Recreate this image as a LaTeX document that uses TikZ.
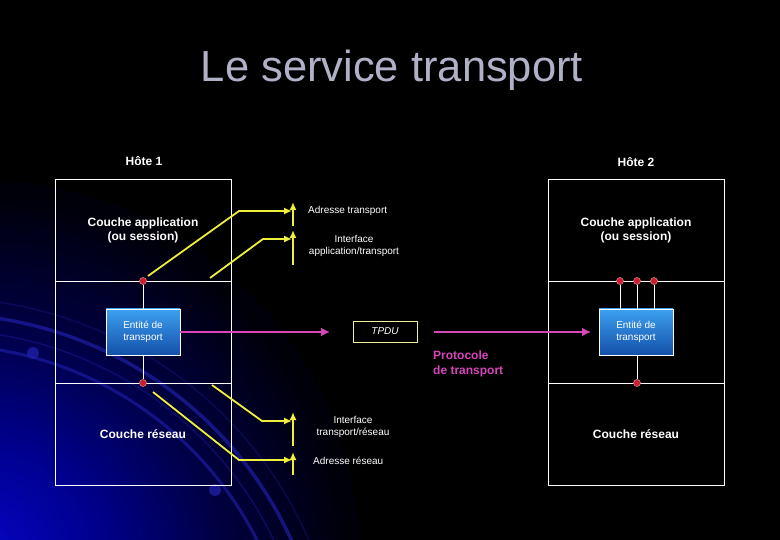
\documentclass[tikz,border=0pt]{standalone}
\usepackage{fontspec}
\setmainfont{Liberation Sans}
\usetikzlibrary{arrows.meta}
\definecolor{titlec}{RGB}{176,176,198}
\definecolor{yel}{RGB}{240,240,60}
\definecolor{pinkc}{RGB}{215,70,185}
\definecolor{arcc}{RGB}{30,30,165}
\definecolor{dotc}{RGB}{200,30,45}
\definecolor{entTop}{RGB}{60,160,240}
\definecolor{entBot}{RGB}{20,80,170}
\definecolor{tpduc}{RGB}{240,240,160}
\definecolor{g0}{RGB}{5,5,200}
\definecolor{g1}{RGB}{0,0,140}
\definecolor{g2}{RGB}{0,0,64}
\definecolor{g3}{RGB}{0,0,10}
\pgfdeclareradialshading{bgglow}{\pgfpoint{0bp}{0bp}}{%
  color(0bp)=(g0);
  color(8bp)=(g1);
  color(16bp)=(g2);
  color(24bp)=(g3);
  color(28bp)=(black);
  color(50bp)=(black)}
\tikzset{
  layer/.style={draw=white, line width=0.8pt, minimum width=176pt, minimum height=102pt, inner sep=0pt, text=white, align=center, font=\fontsize{12}{14}\selectfont\bfseries},
  entity/.style={draw=white, line width=0.8pt, top color=entTop, bottom color=entBot, minimum width=74pt, minimum height=46pt, inner sep=0pt, text=white, align=center, font=\fontsize{10}{12}\selectfont},
  hostlbl/.style={text=white, font=\fontsize{12}{14}\selectfont\bfseries},
  small/.style={text=white, align=center, font=\fontsize{10}{12}\selectfont},
  reddot/.style={circle, fill=dotc, draw={rgb,255:red,240;green,140;blue,150}, line width=0.5pt, minimum size=7pt, inner sep=0pt},
  wire/.style={draw=white, line width=0.8pt},
  yline/.style={draw=yel, line width=1.8pt, -{Latex[length=8pt,width=7pt]}},
  parrow/.style={draw=pinkc, line width=2.8pt, -{Latex[length=9pt,width=9pt]}},
}
\begin{document}
\begin{tikzpicture}[x=1pt,y=-1pt]
\useasboundingbox (0,0) rectangle (780,540);
\fill[black] (0,0) rectangle (780,540);
% background glow and arcs
\begin{scope}
\clip (0,0) rectangle (780,540);
\shade[shading=bgglow] (-20,560) circle (380);
\foreach \r/\w/\o in {386/3.5/0.7, 370/1.5/0.4, 355/3/0.65, 402/1.5/0.3}{
  \draw[arcc, line width=\w pt, opacity=\o] (-60,700) ++(-100:\r) arc (-100:-20:\r);
}
\fill[arcc, opacity=0.8] (33,353) circle (6);
\fill[arcc, opacity=0.8] (215,490) circle (6);
\end{scope}
% title
\node[text=titlec, font=\fontsize{43.5}{48}\selectfont, anchor=base] (title) at (392,82) {Le service transport};
% host labels
\node[hostlbl] (h1) at (144,161) {Hôte 1};
\node[hostlbl] (h2) at (636,162) {Hôte 2};
% layers
\node[layer] (LA) at (143,230) {Couche application\\(ou session)};
\node[layer] (LT) at (143,332) {};
\node[layer] (LR) at (143,434) {Couche réseau};
\node[layer] (RA) at (636,230) {Couche application\\(ou session)};
\node[layer] (RT) at (636,332) {};
\node[layer] (RR) at (636,434) {Couche réseau};
% entities
\node[entity] (EL) at (143,332) {Entité de\\transport};
\node[entity] (ER) at (636,332) {Entité de\\transport};
% dots
\node[reddot] (dL1) at (143,281) {};
\node[reddot] (dL2) at (143,383) {};
\node[reddot] (dR1) at (620,281) {};
\node[reddot] (dR2) at (637,281) {};
\node[reddot] (dR3) at (654,281) {};
\node[reddot] (dR4) at (637,383) {};
\draw[wire] (dL1) -- (EL.north);
\draw[wire] (EL.south) -- (dL2);
\draw[wire] (dR1) -- (dR1 |- ER.north);
\draw[wire] (dR2) -- (dR2 |- ER.north);
\draw[wire] (dR3) -- (dR3 |- ER.north);
\draw[wire] (dR4 |- ER.south) -- (dR4);
% TPDU
\node[draw=tpduc, line width=0.8pt, fill=black, minimum width=64pt, minimum height=21pt, inner sep=0pt, text=white, font=\fontsize{10}{12}\selectfont\itshape] (tpdu) at (385,331.5) {TPDU};
\coordinate (p1) at (330,332);
\coordinate (p2) at (434,332);
\coordinate (p3) at (591,332);
\draw[parrow] (EL.east) -- (p1);
\draw[parrow] (p2) -- (p3);
\node[text=pinkc, align=left, anchor=north west, inner sep=0pt, font=\fontsize{12}{15}\selectfont\bfseries] (proto) at (433,351) {Protocole\\de transport};
% yellow markers
\coordinate (b1b) at (293,226); \coordinate (b1t) at (293,202);
\coordinate (b2b) at (293,265); \coordinate (b2t) at (293,230);
\coordinate (b3b) at (293,446); \coordinate (b3t) at (293,412);
\coordinate (b4b) at (293,475); \coordinate (b4t) at (293,452);
\draw[yline] (b1b) -- (b1t);
\draw[yline] (b2b) -- (b2t);
\draw[yline] (b3b) -- (b3t);
\draw[yline] (b4b) -- (b4t);
\coordinate (y1s) at (148,276); \coordinate (y1m) at (239,211); \coordinate (y1e) at (292,211);
\coordinate (y2s) at (210,278); \coordinate (y2m) at (263,239); \coordinate (y2e) at (292,239);
\coordinate (y3s) at (212,385); \coordinate (y3m) at (262,421); \coordinate (y3e) at (292,421);
\coordinate (y4s) at (153,392); \coordinate (y4m) at (239,460); \coordinate (y4e) at (292,460);
\draw[yline] (y1s) -- (y1m) -- (y1e);
\draw[yline] (y2s) -- (y2m) -- (y2e);
\draw[yline] (y3s) -- (y3m) -- (y3e);
\draw[yline] (y4s) -- (y4m) -- (y4e);
% labels
\node[small, anchor=west, inner sep=0pt] (at) at (308,211) {Adresse transport};
\node[small] (iat) at (354,246) {Interface\\application/transport};
\node[small] (itr) at (353,427) {Interface\\transport/réseau};
\node[small, anchor=west, inner sep=0pt] (ar) at (313,461) {Adresse réseau};
\end{tikzpicture}
\end{document}
